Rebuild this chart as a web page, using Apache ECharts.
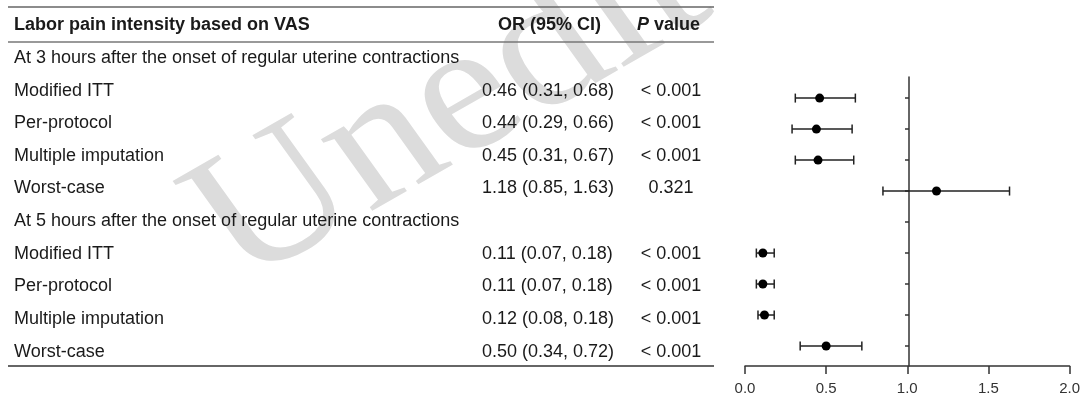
<!DOCTYPE html>
<html>
<head>
<meta charset="utf-8">
<script src="https://cdn.jsdelivr.net/npm/echarts@6/dist/echarts.min.js"></script>
<style>
html,body{margin:0;padding:0;background:#fff;}
#main{width:1083px;height:416px;}
</style>
</head>
<body>
<div id="main"></div>
<script>
// ---- data ----
const headerTitle = 'Labor pain intensity based on VAS';
const headerOR = 'OR (95% CI)';
const sections = ['At 3 hours after the onset of regular uterine contractions',
                  'At 5 hours after the onset of regular uterine contractions'];
const methods = ['Modified ITT', 'Per-protocol', 'Multiple imputation', 'Worst-case'];
const est3 = [0.46, 0.44, 0.45, 1.18];
const lo3  = [0.31, 0.29, 0.31, 0.85];
const hi3  = [0.68, 0.66, 0.67, 1.63];
const p3   = ['< 0.001', '< 0.001', '< 0.001', '0.321'];
const est5 = [0.11, 0.11, 0.12, 0.50];
const lo5  = [0.07, 0.07, 0.08, 0.34];
const hi5  = [0.18, 0.18, 0.18, 0.72];
const p5   = ['< 0.001', '< 0.001', '< 0.001', '< 0.001'];
const xTicks = [0, 0.5, 1.0, 1.5, 2.0];

// ---- table rows (built from arrays) ----
const fmt = v => v.toFixed(2);
const tableRows = [{kind: 'header'}];
const groups = [[est3, lo3, hi3, p3], [est5, lo5, hi5, p5]];
groups.forEach((g, gi) => {
  tableRows.push({kind: 'section', text: sections[gi]});
  methods.forEach((m, i) => {
    tableRows.push({kind: 'row', name: m,
      or: fmt(g[0][i]) + ' (' + fmt(g[1][i]) + ', ' + fmt(g[2][i]) + ')',
      p: g[3][i]});
  });
});

// ---- plot rows: group 0 at 0..3, gap row 4, group 1 at 5..8 ----
const pointData = [], barData = [];
groups.forEach((g, gi) => {
  methods.forEach((m, i) => {
    const r = gi * (methods.length + 1) + i;
    pointData.push([g[0][i], r]);
    barData.push([r, g[1][i], g[2][i]]);
  });
});
const rowTicks = [];
for (let r = 0; r < methods.length * 2 + 1; r++) rowTicks.push(r);

const FONT = 'Liberation Sans, Arial, sans-serif';
const TXT = '#1a1a1a';

const chart = echarts.init(document.getElementById('main'));
const option = {
  backgroundColor: '#ffffff',
  animation: false,
  graphic: [
    {type: 'group', z: -10, scaleX: 1.12, scaleY: 1, children: [
      {type: 'text', x: 240, y: 322, rotation: 0.57,
       style: {text: 'Unedited', font: '185px "Liberation Serif", serif', fill: '#dcdcdc',
               textVerticalAlign: 'bottom'}}
    ]},
    {type: 'line', shape: {x1: 8, y1: 7, x2: 714, y2: 7}, style: {stroke: '#666', lineWidth: 1.5}},
    {type: 'line', shape: {x1: 8, y1: 42, x2: 714, y2: 42}, style: {stroke: '#777', lineWidth: 1.5}},
    {type: 'line', shape: {x1: 8, y1: 366, x2: 714, y2: 366}, style: {stroke: '#333', lineWidth: 1.5}}
  ],
  grid: [
    {left: 14, top: 9, width: 700, height: 359, containLabel: false},
    {left: 745, right: 10, top: 77, bottom: 50, containLabel: false}
  ],
  xAxis: [
    {gridIndex: 0, type: 'value', min: 0, max: 1, show: false},
    {gridIndex: 1, type: 'value', min: 0, max: 2, interval: 0.5,
     axisLine: {show: true, onZero: false, lineStyle: {color: '#333', width: 1.5}},
     axisTick: {show: true, length: 8, lineStyle: {color: '#333', width: 1.5}},
     axisLabel: {color: '#333', fontSize: 15, fontFamily: FONT, margin: 15,
                 formatter: v => v.toFixed(1)},
     splitLine: {show: false}}
  ],
  yAxis: [
    {gridIndex: 0, type: 'category', inverse: true,
     data: tableRows.map((r, i) => String(i)),
     axisLine: {show: false}, axisTick: {show: false}, splitLine: {show: false},
     axisLabel: {
       show: true, interval: 0, margin: 0, align: 'left', color: TXT,
       fontSize: 18, fontFamily: FONT,
       formatter: (v) => {
         const r = tableRows[+v];
         if (r.kind === 'header') {
           return '{hn|' + headerTitle + '}{ho|' + headerOR + '}{hp|P}{hv| value}';
         }
         if (r.kind === 'section') return '{s|' + r.text + '}';
         return '{n|' + r.name + '}{o|' + r.or + '}{p|' + r.p + '}';
       },
       rich: {
         hn: {width: 468, fontSize: 18, fontWeight: 'bold', fontFamily: FONT, color: TXT},
         ho: {width: 135, align: 'center', fontSize: 18, fontWeight: 'bold', fontFamily: FONT, color: TXT},
         hp: {fontSize: 18, fontWeight: 'bold', fontStyle: 'italic', fontFamily: FONT, color: TXT, padding: [0, 0, 0, 20]},
         hv: {fontSize: 18, fontWeight: 'bold', fontFamily: FONT, color: TXT},
         s: {fontSize: 18, fontFamily: FONT, color: TXT},
         n: {width: 468, fontSize: 18, fontFamily: FONT, color: TXT},
         o: {width: 135, fontSize: 18, fontFamily: FONT, color: TXT},
         p: {width: 108, align: 'center', fontSize: 18, fontFamily: FONT, color: TXT}
       }
     }},
    {gridIndex: 1, type: 'value', inverse: true, min: -0.68, max: 8.645,
     position: 'left', offset: -164,
     axisLine: {show: true, onZero: false, lineStyle: {color: '#333', width: 1.5}},
     axisTick: {show: true, length: 4, customValues: rowTicks, lineStyle: {color: '#333', width: 1.5}},
     axisLabel: {show: false},
     splitLine: {show: false}}
  ],
  series: [
    {type: 'custom', xAxisIndex: 1, yAxisIndex: 1, data: barData, z: 3,
     renderItem: (params, api) => {
       const a = api.coord([api.value(1), api.value(0)]);
       const b = api.coord([api.value(2), api.value(0)]);
       const h = 4.5;
       const st = {stroke: '#222', lineWidth: 1.5};
       return {type: 'group', children: [
         {type: 'line', shape: {x1: a[0], y1: a[1], x2: b[0], y2: b[1]}, style: st},
         {type: 'line', shape: {x1: a[0], y1: a[1] - h, x2: a[0], y2: a[1] + h}, style: st},
         {type: 'line', shape: {x1: b[0], y1: b[1] - h, x2: b[0], y2: b[1] + h}, style: st}
       ]};
     }},
    {type: 'scatter', xAxisIndex: 1, yAxisIndex: 1, data: pointData, z: 4,
     symbol: 'circle', symbolSize: 9, itemStyle: {color: '#000', opacity: 1}}
  ]
};
chart.setOption(option);
</script>
</body>
</html>
